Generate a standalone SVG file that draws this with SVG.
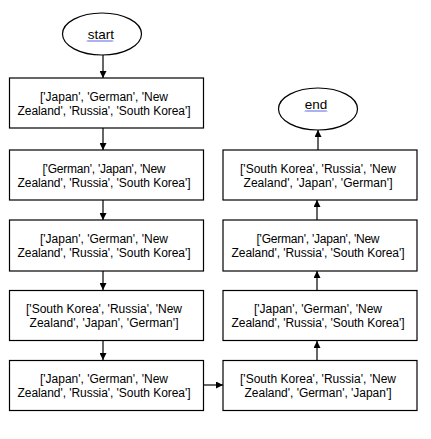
<svg xmlns="http://www.w3.org/2000/svg" width="431" height="439" viewBox="0 0 431 439">
<defs>
<style>
.box{fill:#fff;stroke:#000;stroke-width:1.2}
.t{font-family:"Liberation Sans",Arial,sans-serif;font-size:12px;fill:#000;text-anchor:middle}
.tl{font-family:"Liberation Sans",Arial,sans-serif;font-size:13.5px;fill:#000;text-anchor:middle}
.c{stroke:#000;stroke-width:1.2;fill:none}
.w{stroke:#3f51d8;stroke-width:1;fill:none}
</style>
<marker id="ah" viewBox="0 0 10 10" refX="10" refY="5" markerWidth="7" markerHeight="7" markerUnits="userSpaceOnUse" orient="auto">
<path d="M0,0 L10,5 L0,10 z" fill="#000"/>
</marker>
</defs>
<rect width="431" height="439" fill="#fff"/>
<g id="connectors">
<line class="c" x1="103" y1="55" x2="103" y2="78" marker-end="url(#ah)"/>
<line class="c" x1="103" y1="128" x2="103" y2="150" marker-end="url(#ah)"/>
<line class="c" x1="103" y1="200" x2="103" y2="220" marker-end="url(#ah)"/>
<line class="c" x1="103" y1="271" x2="103" y2="290" marker-end="url(#ah)"/>
<line class="c" x1="103" y1="341" x2="103" y2="360" marker-end="url(#ah)"/>
<line class="c" x1="204" y1="385" x2="223" y2="385" marker-end="url(#ah)"/>
<line class="c" x1="317" y1="361" x2="317" y2="341" marker-end="url(#ah)"/>
<line class="c" x1="317" y1="291" x2="317" y2="271" marker-end="url(#ah)"/>
<line class="c" x1="317" y1="220" x2="317" y2="200" marker-end="url(#ah)"/>
<line class="c" x1="318" y1="150" x2="318" y2="130" marker-end="url(#ah)"/>
</g>
<g id="start">
<ellipse class="box" cx="102" cy="34" rx="39.5" ry="21"/>
<text class="tl" x="101" y="39">start</text>
<path class="w" d="M87,41.5 l1,-1 l1,1 l1,-1 l1,1 l1,-1 l1,1 l1,-1 l1,1 l1,-1 l1,1 l1,-1 l1,1 l1,-1 l1,1 l1,-1 l1,1 l1,-1 l1,1 l1,-1 l1,1 l1,-1 l1,1 l1,-1 l1,1 l1,-1 l1,1"/>
</g>
<g id="n1">
<rect class="box" x="9.5" y="78" width="194" height="50"/>
<text class="t" x="104" y="101" textLength="128">['Japan', 'German', 'New</text>
<text class="t" x="104" y="115" textLength="173">Zealand', 'Russia', 'South Korea']</text>
</g>
<g id="n2">
<rect class="box" x="9.5" y="150" width="194" height="50"/>
<text class="t" x="104" y="173" textLength="123">['German', 'Japan', 'New</text>
<text class="t" x="104" y="187" textLength="173">Zealand', 'Russia', 'South Korea']</text>
</g>
<g id="n3">
<rect class="box" x="9.5" y="220" width="194" height="51"/>
<text class="t" x="104" y="243" textLength="128">['Japan', 'German', 'New</text>
<text class="t" x="104" y="257" textLength="173">Zealand', 'Russia', 'South Korea']</text>
</g>
<g id="n4">
<rect class="box" x="9.5" y="290.5" width="194" height="50"/>
<text class="t" x="104" y="313" textLength="156">['South Korea', 'Russia', 'New</text>
<text class="t" x="104" y="327" textLength="149">Zealand', 'Japan', 'German']</text>
</g>
<g id="n5">
<rect class="box" x="9.5" y="360.5" width="194" height="50"/>
<text class="t" x="104" y="383" textLength="128">['Japan', 'German', 'New</text>
<text class="t" x="104" y="397" textLength="173">Zealand', 'Russia', 'South Korea']</text>
</g>
<g id="n6">
<rect class="box" x="223" y="360.5" width="194" height="50"/>
<text class="t" x="318" y="383" textLength="156">['South Korea', 'Russia', 'New</text>
<text class="t" x="318" y="397" textLength="147">Zealand', 'German', 'Japan']</text>
</g>
<g id="n7">
<rect class="box" x="223" y="290.5" width="194" height="50"/>
<text class="t" x="318" y="313" textLength="128">['Japan', 'German', 'New</text>
<text class="t" x="318" y="327" textLength="173">Zealand', 'Russia', 'South Korea']</text>
</g>
<g id="n8">
<rect class="box" x="223" y="220" width="194" height="51"/>
<text class="t" x="318" y="243" textLength="123">['German', 'Japan', 'New</text>
<text class="t" x="318" y="257" textLength="173">Zealand', 'Russia', 'South Korea']</text>
</g>
<g id="n9">
<rect class="box" x="223" y="150" width="194" height="50"/>
<text class="t" x="318" y="173" textLength="156">['South Korea', 'Russia', 'New</text>
<text class="t" x="318" y="187" textLength="149">Zealand', 'Japan', 'German']</text>
</g>
<g id="end">
<ellipse class="box" cx="318" cy="109" rx="39.5" ry="21"/>
<text class="tl" x="316" y="108.5">end</text>
<path class="w" d="M305,111.5 l1,-1 l1,1 l1,-1 l1,1 l1,-1 l1,1 l1,-1 l1,1 l1,-1 l1,1 l1,-1 l1,1 l1,-1 l1,1 l1,-1 l1,1 l1,-1 l1,1 l1,-1 l1,1 l1,-1 l1,1"/>
</g>
</svg>
